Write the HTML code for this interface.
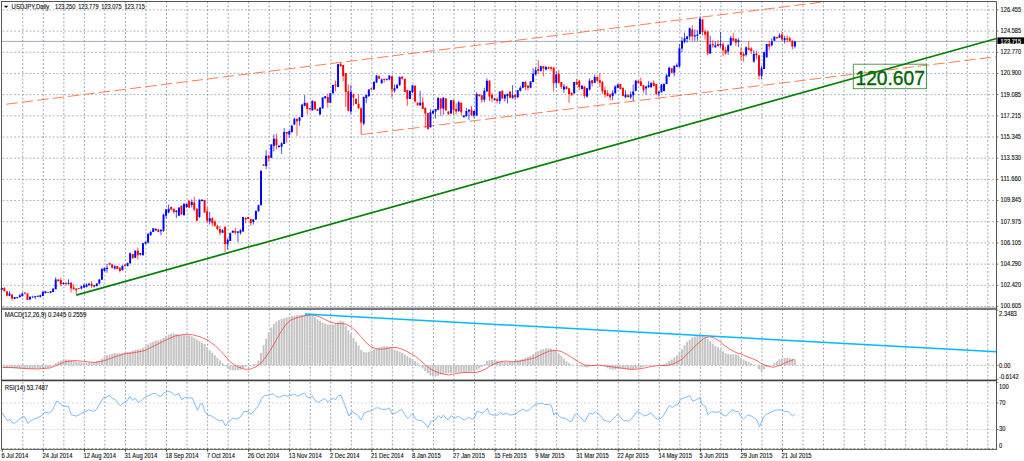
<!DOCTYPE html>
<html><head><meta charset="utf-8"><title>USDJPY Daily</title>
<style>html,body{margin:0;padding:0;background:#fff;overflow:hidden}body{width:1024px;height:461px;font-family:"Liberation Sans",sans-serif}svg text{font-family:"Liberation Sans",sans-serif}</style>
</head><body>
<svg width="1024" height="461" viewBox="0 0 1024 461" style="display:block">
<rect width="1024" height="461" fill="#fff"/>
<path d="M22.78 1.5V307M22.78 309.1V379.7M22.78 382V449.5M43.32 1.5V307M43.32 309.1V379.7M43.32 382V449.5M63.85 1.5V307M63.85 309.1V379.7M63.85 382V449.5M84.38 1.5V307M84.38 309.1V379.7M84.38 382V449.5M104.92 1.5V307M104.92 309.1V379.7M104.92 382V449.5M125.45 1.5V307M125.45 309.1V379.7M125.45 382V449.5M145.98 1.5V307M145.98 309.1V379.7M145.98 382V449.5M166.51 1.5V307M166.51 309.1V379.7M166.51 382V449.5M187.05 1.5V307M187.05 309.1V379.7M187.05 382V449.5M207.58 1.5V307M207.58 309.1V379.7M207.58 382V449.5M228.11 1.5V307M228.11 309.1V379.7M228.11 382V449.5M248.65 1.5V307M248.65 309.1V379.7M248.65 382V449.5M269.18 1.5V307M269.18 309.1V379.7M269.18 382V449.5M289.71 1.5V307M289.71 309.1V379.7M289.71 382V449.5M310.25 1.5V307M310.25 309.1V379.7M310.25 382V449.5M330.78 1.5V307M330.78 309.1V379.7M330.78 382V449.5M351.31 1.5V307M351.31 309.1V379.7M351.31 382V449.5M371.84 1.5V307M371.84 309.1V379.7M371.84 382V449.5M392.38 1.5V307M392.38 309.1V379.7M392.38 382V449.5M412.91 1.5V307M412.91 309.1V379.7M412.91 382V449.5M433.44 1.5V307M433.44 309.1V379.7M433.44 382V449.5M453.98 1.5V307M453.98 309.1V379.7M453.98 382V449.5M474.51 1.5V307M474.51 309.1V379.7M474.51 382V449.5M495.04 1.5V307M495.04 309.1V379.7M495.04 382V449.5M515.58 1.5V307M515.58 309.1V379.7M515.58 382V449.5M536.11 1.5V307M536.11 309.1V379.7M536.11 382V449.5M556.64 1.5V307M556.64 309.1V379.7M556.64 382V449.5M577.17 1.5V307M577.17 309.1V379.7M577.17 382V449.5M597.71 1.5V307M597.71 309.1V379.7M597.71 382V449.5M618.24 1.5V307M618.24 309.1V379.7M618.24 382V449.5M638.77 1.5V307M638.77 309.1V379.7M638.77 382V449.5M659.31 1.5V307M659.31 309.1V379.7M659.31 382V449.5M679.84 1.5V307M679.84 309.1V379.7M679.84 382V449.5M700.37 1.5V307M700.37 309.1V379.7M700.37 382V449.5M720.91 1.5V307M720.91 309.1V379.7M720.91 382V449.5M741.44 1.5V307M741.44 309.1V379.7M741.44 382V449.5M761.97 1.5V307M761.97 309.1V379.7M761.97 382V449.5M782.5 1.5V307M782.5 309.1V379.7M782.5 382V449.5M803.04 1.5V307M803.04 309.1V379.7M803.04 382V449.5M823.57 1.5V307M823.57 309.1V379.7M823.57 382V449.5M844.1 1.5V307M844.1 309.1V379.7M844.1 382V449.5M864.64 1.5V307M864.64 309.1V379.7M864.64 382V449.5M885.17 1.5V307M885.17 309.1V379.7M885.17 382V449.5M905.7 1.5V307M905.7 309.1V379.7M905.7 382V449.5M926.24 1.5V307M926.24 309.1V379.7M926.24 382V449.5M946.77 1.5V307M946.77 309.1V379.7M946.77 382V449.5M967.3 1.5V307M967.3 309.1V379.7M967.3 382V449.5M987.83 1.5V307M987.83 309.1V379.7M987.83 382V449.5" stroke="#67778d" stroke-width="0.66" stroke-dasharray="1.925 1.925" fill="none"/>
<path d="M2.6 9.9H996.5M2.6 31.09H996.5M2.6 52.27H996.5M2.6 73.45H996.5M2.6 94.64H996.5M2.6 115.83H996.5M2.6 137.01H996.5M2.6 158.19H996.5M2.6 179.38H996.5M2.6 200.56H996.5M2.6 221.75H996.5M2.6 242.94H996.5M2.6 264.12H996.5M2.6 285.3H996.5M2.6 306.49H996.5M2.6 365.3H996.5" stroke="#7e8da2" stroke-width="0.66" stroke-dasharray="1.925 1.925" fill="none"/>
<path d="M2.6 403H996.5M2.6 429.5H996.5" stroke="#c6c6c6" stroke-width="0.65" stroke-dasharray="1.925 1.925" fill="none"/>
<path d="M1.5 41.4H996.5" stroke="#8a98ad" stroke-width="0.8" fill="none"/>
<path d="M4.37 365.3V368.06M6.93 365.3V368.15M9.5 365.3V368.23M12.07 365.3V368.32M14.63 365.3V368.4M17.2 365.3V368.49M19.77 365.3V368.58M22.33 365.3V368.66M24.9 365.3V368.75M27.47 365.3V368.75M30.03 365.3V368.75M32.6 365.3V368.75M35.17 365.3V368.75M37.73 365.3V368.73M40.3 365.3V368.47M42.87 365.3V368.21M45.43 365.3V367.96M48 365.3V367.7M50.57 365.3V367.12M55.7 365.3V363.31M58.27 365.3V361.48M60.83 365.3V360.58M63.4 365.3V359.86M65.97 365.3V359.48M68.53 365.3V359.51M71.1 365.3V360.15M73.67 365.3V360.79M76.23 365.3V361.43M78.8 365.3V361.88M81.37 365.3V362.14M83.93 365.3V362.39M86.5 365.3V362.5M89.07 365.3V362.5M91.63 365.3V362.5M94.2 365.3V362.05M96.77 365.3V361.36M99.33 365.3V360.68M101.9 365.3V358.79M104.47 365.3V356.48M107.03 365.3V355.29M109.6 365.3V354.39M112.17 365.3V353.71M114.73 365.3V353.07M117.3 365.3V353.23M119.87 365.3V353.49M122.43 365.3V353.01M125 365.3V352.5M127.57 365.3V352.11M130.14 365.3V351.7M132.7 365.3V350.8M135.27 365.3V349.96M137.84 365.3V349.57M140.4 365.3V349.05M142.97 365.3V347.77M145.54 365.3V346.35M148.1 365.3V344.42M150.67 365.3V342.67M153.24 365.3V341.38M155.8 365.3V340.42M158.37 365.3V340.16M160.94 365.3V339.39M163.5 365.3V337.72M166.07 365.3V336.11M168.64 365.3V334.57M171.2 365.3V333.69M173.77 365.3V333.56M176.34 365.3V333.9M178.9 365.3V334.67M181.47 365.3V335M184.04 365.3V335M186.6 365.3V335.16M189.17 365.3V335.42M191.74 365.3V336.37M194.3 365.3V337.65M196.87 365.3V339.4M199.44 365.3V341.33M202 365.3V342.75M204.57 365.3V344.03M207.14 365.3V346.92M209.7 365.3V350.13M212.27 365.3V352.77M214.84 365.3V355.34M217.4 365.3V357.9M219.97 365.3V360.47M222.54 365.3V363.29M225.1 365.3V366.08M227.67 365.3V368.14M230.24 365.3V370.02M232.8 365.3V370.28M235.37 365.3V370.46M237.94 365.3V370.21M240.5 365.3V369.73M243.07 365.3V368.36M245.64 365.3V366.99M248.2 365.3V365.75M250.77 365.3V364.86M253.34 365.3V364.25M255.9 365.3V364.25M258.47 365.3V360.54M261.04 365.3V352.89M263.6 365.3V345.24M266.17 365.3V338.82M268.74 365.3V332.53M271.3 365.3V327.54M273.87 365.3V323.88M276.44 365.3V321.53M279 365.3V320.25M281.57 365.3V319.05M284.14 365.3V318.15M286.7 365.3V317.32M289.27 365.3V316.68M291.84 365.3V316.12M294.4 365.3V315.74M296.97 365.3V315.35M299.54 365.3V314.97M302.1 365.3V314.64M304.67 365.3V314.38M307.24 365.3V314.37M309.8 365.3V314.63M312.37 365.3V315.64M314.94 365.3V317.31M317.5 365.3V319.13M320.07 365.3V321.05M322.64 365.3V322.57M325.2 365.3V323.85M327.77 365.3V324.52M330.34 365.3V324.9M332.9 365.3V324.43M335.47 365.3V323.66M338.04 365.3V322.28M340.6 365.3V320.74M343.17 365.3V321.59M345.74 365.3V325.67M348.3 365.3V330.16M350.87 365.3V334.06M353.44 365.3V337.91M356 365.3V341.76M358.57 365.3V345.62M361.14 365.3V349.9M363.7 365.3V352.04M366.27 365.3V352.42M368.84 365.3V351.65M371.4 365.3V350.8M373.97 365.3V349.51M376.54 365.3V348.31M379.1 365.3V347.41M381.67 365.3V346.65M384.24 365.3V346.26M386.81 365.3V346.24M389.37 365.3V347.01M391.94 365.3V348.06M394.51 365.3V349.6M397.07 365.3V350.77M399.64 365.3V351.41M402.21 365.3V352.65M404.77 365.3V354.58M407.34 365.3V356.17M409.91 365.3V357.45M412.47 365.3V359.1M415.04 365.3V361.03M417.61 365.3V363.36M420.17 365.3V365.92M422.74 365.3V368.49M425.31 365.3V371.06M427.87 365.3V373.34M430.44 365.3V375.52M433.01 365.3V376.3M435.57 365.3V376.69M438.14 365.3V375.68M440.71 365.3V374.4M443.27 365.3V373.91M445.84 365.3V373.52M448.41 365.3V373.26M450.97 365.3V373M453.54 365.3V372.75M456.11 365.3V372.5M458.67 365.3V372.5M461.24 365.3V372.5M463.81 365.3V372.5M466.37 365.3V372.43M468.94 365.3V371.91M471.51 365.3V371.4M474.07 365.3V370.89M476.64 365.3V370.12M479.21 365.3V368.58M481.77 365.3V366.88M484.34 365.3V363.99M486.91 365.3V360.82M489.47 365.3V360.31M492.04 365.3V360.1M494.61 365.3V360.36M497.17 365.3V360.79M499.74 365.3V361.43M502.31 365.3V361.75M504.87 365.3V361.75M507.44 365.3V361.75M510.01 365.3V361.75M512.57 365.3V361.61M515.14 365.3V360.97M517.71 365.3V360.32M520.27 365.3V359.68M522.84 365.3V358.96M525.41 365.3V358.06M527.97 365.3V357.01M530.54 365.3V355.73M533.11 365.3V354.28M535.67 365.3V352.61M538.24 365.3V351.13M540.81 365.3V349.85M543.37 365.3V348.91M545.94 365.3V348.26M548.51 365.3V348.15M551.07 365.3V348.41M553.64 365.3V349.57M556.21 365.3V351.23M558.77 365.3V353.52M561.34 365.3V356.09M563.91 365.3V358.66M566.47 365.3V361.22M569.04 365.3V363.08M571.61 365.3V364.74M576.74 365.3V365.95M579.31 365.3V366.35M581.87 365.3V366.73M584.44 365.3V367.12M587.01 365.3V367.5M589.57 365.3V366.73M592.14 365.3V365.95M597.27 365.3V364.29M599.84 365.3V364.68M604.97 365.3V366.78M607.54 365.3V368.19M610.11 365.3V369.09M612.67 365.3V369.68M615.24 365.3V369.43M617.81 365.3V369.05M620.37 365.3V368.41M622.94 365.3V368.24M625.51 365.3V368.88M628.07 365.3V369.41M630.64 365.3V369.8M633.21 365.3V369.64M635.77 365.3V368.87M638.34 365.3V368.23M640.91 365.3V367.72M643.47 365.3V367.06M646.04 365.3V366.29M648.61 365.3V365.68M664.01 365.3V364M666.58 365.3V362.71M669.14 365.3V361.11M671.71 365.3V359.44M674.28 365.3V357.54M676.84 365.3V355.62M679.41 365.3V352.49M681.98 365.3V349.28M684.54 365.3V345.44M687.11 365.3V341.66M689.68 365.3V339.48M692.24 365.3V337.4M694.81 365.3V336.38M697.38 365.3V335.32M699.94 365.3V334.13M702.51 365.3V335.16M705.08 365.3V337.18M707.64 365.3V339.11M710.21 365.3V341.21M712.78 365.3V343.78M715.34 365.3V345.92M717.91 365.3V347.2M720.48 365.3V348.98M723.04 365.3V351.54M725.61 365.3V353.28M728.18 365.3V353.92M730.74 365.3V354.25M733.31 365.3V354.25M735.88 365.3V354.59M738.44 365.3V355.24M741.01 365.3V357.96M743.58 365.3V359.52M746.14 365.3V360.81M748.71 365.3V362.09M751.28 365.3V363.37M753.84 365.3V364.66M756.41 365.3V365.62M758.98 365.3V369.17M761.54 365.3V371.45M764.11 365.3V369.48M766.68 365.3V367.04M769.24 365.3V365.8M771.81 365.3V364.8M774.38 365.3V363.09M776.94 365.3V361.16M779.51 365.3V359.36M782.08 365.3V358.28M784.64 365.3V357.93M787.21 365.3V357.8M789.78 365.3V358.2M792.34 365.3V359.01M794.91 365.3V360.03" stroke="#c4c4c4" stroke-width="1.95" fill="none"/>
<path d="M2.5 367.5L12.5 367.5L25 368.5L37.5 369L50 368L57.5 365L65 361.75L75 360.5L85 361.5L95 362.5L105 360.5L115 356.75L125 353.75L135 352.5L145 350.5L155 345.5L165 340.5L175 336L185 334.25L192.5 334.75L200 336.75L207.5 340L215 345.5L222.5 353L230 361.75L237.5 366.75L245 369.25L250 369.25L256 366.75L261 363L266 356.75L271 349.25L276 340.5L281 331.75L286 324.25L291 320L296 318L301 316.75L306 315.5L311 315L316 315.5L321 317.5L326 320L331 322.25L336 323.5L341 323.5L346 324.25L351 326.75L356 331L361 336.75L366 342.5L371 346.75L376 348.75L381 349.25L386 348.75L391 347.5L396 347.5L401 348.75L406 351L411 353.75L416 356.75L421 361L426 365.5L431 369.25L436 371.75L441 373.5L448.5 375L456 373.5L463.5 372.5L471 372.5L476 372.5L481 371L486 368.75L491 365.5L496 363L501 361.5L506 361L512 361.75L519.5 361.25L527 359.75L534.5 358L542 354.25L549.5 351L557 350.5L562 351.75L569.5 356L577 361L584.5 365L592 365.5L599.5 365.25L607 366L614.5 367.25L622 368.25L629.5 369.25L637 369.25L644.5 368L652 366.25L659.5 365.5L667 365.5L674.5 363.5L682 359.25L689.5 351.75L697 344.25L704.5 338L709.5 336.75L714.5 338L719.5 341.25L724.5 345.5L732 350.5L738.25 353.5L740 353.33L745.03 355.85L750.06 357.74L755.09 359.62L760.13 362.77L765.16 365.28L770.19 366.79L773.96 367.17L777.74 365.91L781.51 365.03L785.28 362.77L790.31 360.88L794.72 359.25" stroke="#ff3030" stroke-width="0.72" fill="none" stroke-linejoin="round"/>
<path d="M1.95 412.23L4.88 417.11L7.81 421.02L9.77 419.06L12.7 423.36L15.62 422.58L19.53 419.06L22.46 416.72L25 417.11L27.73 423.36L30.27 421.02L34.18 419.06L38.09 417.5L41.02 416.13L43.95 412.81L45.9 412.23L48.83 413.2L51.76 411.25L53.71 407.34L56.64 401.09L58.59 401.88L61.52 405.39L65.43 406.37L68.36 406.37L71.29 414.77L76.17 416.13L80.08 414.18L83.98 412.23L88.87 409.69L92.77 411.25L95.7 410.27L99.61 404.41L103.52 397.58L106.45 397.19L109.38 395.23L112.3 398.55L115.23 399.53L118.16 403.44L120.12 405.78L124.02 402.46L126.95 401.09L129.88 396.6L132.81 400.51L134.77 397.97L138.28 402.46L141.6 400.51L144.53 397.58L148.44 395.62L152.34 393.67L155.27 393.28L159.18 396.02L161.13 396.02L164.06 392.7L167.97 391.33L170.9 392.11L174.8 395.23L178.71 393.67L181.64 399.53L185.55 397.19L189.45 397.97L192.38 397.97L195.31 405.39L197.66 410.27L200 404.41L202.34 403.44L204.88 411.25L207.42 415.16L210.74 415.55L214.65 418.09L219.53 421.02L222.46 420.04L225.39 425.9L229.3 421.02L233.2 418.09L236.13 419.06L240.04 417.5L243.95 411.64L247.85 411.25L251.17 414.18L254.69 410.27L258.59 405.39L261.52 398.55L264.45 395.62L268.36 395.23L273.24 393.67L276.17 396.6L280.08 397.19L283.98 395.23L287.89 396.21L293.75 394.26L297.66 396.21L301.56 394.26L304.49 393.28L307.42 397.19L310.35 397.58L312.3 396.02L315.23 400.51L318.16 402.46L322.07 400.12L325 398.55L327.93 402.46L330.86 399.53L333.79 398.55L335.74 399.53L338.67 395.23L341.02 395.23L343.55 401.48L346.48 409.3L348.83 416.13L351.95 411.25L355.27 413.59L358.59 416.13L361.13 420.04L364.06 413.2L367.97 411.25L371.88 410.86L375.78 407.93L378.71 407.93L381.64 409.3L386.52 409.3L389.45 407.93L392.38 414.18L396.29 412.81L400 409.69L402.34 410.27L404.88 414.77L407.81 418.67L412.7 413.59L415.62 419.06L418.55 420.62L421.48 420.62L424.41 422.97L427.93 427.46L431.25 421.02L435.16 420.04L438.48 415.55L441.02 418.09L443.36 415.16L447.85 420.04L451.17 415.55L454.69 418.09L458.59 416.13L462.11 419.06L464.45 420.04L468.75 417.11L472.27 419.45L474.22 418.09L477.15 411.25L480.08 412.23L483.01 413.2L487.3 408.32L489.84 414.18L493.75 415.16L497.66 415.16L500.59 412.23L502.54 414.77L506.45 413.2L510.35 415.16L515.23 414.18L519.14 411.25L523.05 408.91L525.98 411.25L528.91 410.27L532.81 406.37L535.74 404.41L541.6 403.05L544.53 404.41L548.44 404.41L551.37 405.39L553.91 415.16L556.25 412.23L559.18 416.13L562.11 418.09L565.04 418.09L569.92 421.41L571.88 421.02L574.8 414.77L576.76 413.79L580.66 417.11L584.57 421.99L589.45 413.2L592.38 414.18L595.31 411.64L600 415.16L603.91 420.04L609.77 421.99L614.65 417.11L617.97 414.18L623.44 420.62L628.32 421.02L632.23 418.09L637.11 411.25L640.04 412.81L643.95 416.13L647.85 414.77L651.17 412.81L654.69 417.11L657.62 419.45L661.52 418.09L665.43 412.23L669.34 405.39L672.27 407.34L675.2 405.39L678.12 404.41L680.47 399.14L685.94 397.19L689.84 395.62L692.77 401.09L696.68 399.53L700 397.58L701.95 404.41L705.47 406.37L707.81 414.77L711.33 411.64L715.23 412.23L720.12 411.64L723.05 415.16L725.98 416.13L728.91 413.2L731.84 409.69L735.74 411.64L738.28 411.25L740.62 416.13L743.55 419.06L747.46 415.16L751.37 416.13L756.25 419.06L759.57 426.88L763.09 418.09L766.02 414.18L768.95 413.2L774.8 410.27L779.69 409.69L784.57 411.25L788.48 411.64L792.38 416.13L794.92 414.18" stroke="#4aa3ff" stroke-width="0.72" fill="none" stroke-linejoin="round"/>
<path d="M6.3 104.2L826.59 1.5" stroke="#ff5c22" stroke-width="0.8" stroke-dasharray="11.4 4.17" fill="none"/>
<path d="M361.5 134.5L996.5 56.65" stroke="#ff5c22" stroke-width="0.8" stroke-dasharray="11.4 4.17" fill="none"/>
<path d="M1.8 287.48V290.01M9.5 291.33V296.27M14.63 297V298.93M17.2 297.08V298.84M19.77 294.13V297.3M22.33 292.42V296.51M30.03 296.46V299.47M32.6 295.76V297.52M35.17 295.91V298.93M37.73 295.67V297.06M40.3 294.53V297.84M42.87 290.88V296.3M45.43 291.33V293.56M50.57 291.03V293.34M53.13 288.62V291.88M55.7 277.23V289.16M63.4 281.98V284.67M68.53 279.4V284.67M81.37 285.85V289.62M83.93 283.74V288.14M86.5 283.5V287.6M89.07 282.66V285.37M94.2 285.37V287.45M96.77 283.12V286.51M99.33 279.1V284.42M101.9 268.03V279.72M104.47 267.77V271.51M107.03 263.99V272.8M114.73 265.25V269.65M122.43 264.88V270.28M127.57 262.36V266.48M130.14 252.3V263.96M135.27 250.19V258M140.4 252.92V255.56M142.97 243.24V255.49M145.54 241.38V244.17M148.1 233.51V243.61M150.67 230.92V236.06M153.24 228.14V232.22M155.8 228.03V231.28M160.94 229.03V235.06M163.5 213.9V231.85M166.07 208.84V218.27M168.64 204.43V213.24M176.34 210.09V218.27M178.9 207.28V215.75M184.04 203.51V215.43M186.6 203.81V207.95M191.74 199.4V207.58M199.44 199.48V218.01M202 199.18V201.64M209.7 211.98V224.56M222.54 229.22V232.74M227.67 238.4V249.72M230.24 232.36V240.91M232.8 230.55V232.74M237.94 231.18V242.17M240.5 229.22V234.62M243.07 216.71V231.48M253.34 219.23V224.56M255.9 210.28V219.73M258.47 204.62V211.81M261.04 170.66V205.45M266.17 150.19V169.06M271.3 144.23V158.34M273.87 134.47V151.45M279 145.19V147.64M281.57 142.27V153.96M284.14 128.18V143.9M289.27 130.32V137.61M291.84 124.66V132.95M294.4 117.74V125M299.54 117.18V125.66M302.1 104.54V117.72M304.67 95.11V106.4M312.37 100.47V110.8M320.07 107.09V115.2M322.64 97.32V108.91M325.2 96.06V98.85M330.34 92.92V102.95M332.9 84.74V94.22M338.04 63.99V87.23M350.87 85.04V113.97M363.7 96.39V125.3M366.27 94.51V103.28M368.84 89.45V96.66M373.97 80.9V89.75M376.54 75.01V82.83M381.67 78.38V83.76M386.81 78.75V80.64M389.37 75.31V80.38M394.51 84.42V92.59M397.07 84.04V88.79M399.64 76.87V86.04M409.91 90.57V99.04M412.47 84.91V93.13M420.17 90.87V105.96M430.44 109.11V127.65M433.01 109.99V113.81M435.57 108.81V118.54M438.14 97.79V110.34M443.27 97.19V114.77M450.97 100V113.51M458.67 101.19V111.99M463.81 115.1V117.28M466.37 107.85V117.03M468.94 109.44V119.8M474.07 110.69V117.91M476.64 92.13V115.7M484.34 87.72V102.19M486.91 78.29V91.5M494.61 97.79V100.3M499.74 91.5V104.08M504.87 94.04V101.56M507.44 93.38V103.45M512.57 85.21V98.79M517.71 90.24V98.16M520.27 85.84V91.47M522.84 81.76V88.32M530.54 81.12V88.3M533.11 68.21V82.34M535.67 66.95V75.5M540.81 66.02V71.72M545.94 65.95V70.47M556.21 71.35V87.7M563.91 83.93V92.74M574.17 81.74V93.96M581.87 85.19V89.59M587.01 88.33V97.51M589.57 78.27V90.59M594.71 74.5V82.97M612.67 90.22V100.28M615.24 85.19V93.66M617.81 83.96V88.3M625.51 90.22V98.14M630.64 91.48V99.03M633.21 84.56V100.91M635.77 79.79V91.45M646.04 86.51V94.69M648.61 80.85V87.77M651.18 82.74V87.74M658.88 91.49V96.57M661.44 84.02V92.47M664.01 82.99V91.51M666.58 74.19V84.29M669.14 66.64V77.05M674.28 65.75V76.45M676.84 63.24V66.94M679.41 43.99V67.38M681.98 37.08V52.17M684.54 32.67V43.36M687.11 35.82V42.74M689.68 27.64V40.22M694.81 29.53V40.85M697.38 30.16V40.85M699.94 16.32V34.56M710.21 35.82V54.06M715.34 41.48V47.77M720.48 32.04V47.77M728.18 43.99V54.69M730.74 35.82V45.88M738.44 38.33V47.14M746.14 46.51V56.57M753.84 50.28V62.86M761.54 65.75V78.96M764.11 51.57V68.9M766.68 43.99V57.8M771.81 38.33V46.51M774.38 36.45V41.15M779.51 33.3V37.7M784.64 35.82V43.36M794.91 40.85V48.4" stroke="#0000ff" stroke-width="0.7" fill="none"/>
<path d="M4.37 287.08V291.33M6.93 291.33V295.67M12.07 294.59V300.55M24.9 292.42V294.5M27.47 293.5V300.01M48 291.9V292.96M58.27 279.1V282.03M60.83 277.78V286.45M65.97 282.2V285.28M71.1 282.06V292.42M73.67 284.28V289.46M76.23 288.32V294.05M78.8 287.78V288.84M91.63 281.03V288.08M109.6 262.76V265.22M112.17 263.62V268.77M117.3 265.88V269.03M119.87 267.17V272.55M125 264.62V266.48M132.7 253.93V258.96M137.84 247.64V259.59M158.37 228.8V232.22M171.2 206.35V210.47M173.77 208.54V213.87M181.47 205.39V214.8M189.17 200.36V208.18M194.3 196.89V211.35M196.87 208.24V220.79M204.57 199.73V212.61M207.14 206.95V223.3M212.27 217.01V226.45M214.84 220.42V226.82M217.4 224.82V229.96M219.97 225.82V235.25M225.1 226.08V252.23M235.37 227.7V234.62M245.64 217.29V223.3M248.2 217.01V218.9M250.77 218.9V225.82M263.6 164.28V165.83M268.74 154.85V161.51M276.44 133.84V149.56M286.7 131.95V142.64M296.97 118.74V135.72M307.24 102.28V114.6M309.8 107.76V109.57M314.94 101.1V109.57M317.5 108.72V110.83M327.77 93.85V107.69M335.47 80.64V91.33M340.6 62.66V66.78M343.17 64.92V81.27M345.74 73.09V107.06M348.3 84.42V111.43M353.44 93.48V105.8M356 98.28V104.21M358.57 94.48V108.91M361.14 107.31V134.48M371.4 88.19V89.75M379.1 75.24V78.75M384.24 78.75V82.53M391.94 75.94V97.62M402.21 75.87V79.75M404.77 78.75V92.26M407.34 89.78V105.8M415.04 85.54V102.56M417.61 102.22V105.63M422.74 97.16V109.41M425.31 107.85V127.97M427.87 112.88V129.23M440.71 98.12V116.03M445.84 98.12V110.96M448.41 111.02V115.14M453.54 99.7V114.77M456.11 103.45V114.77M461.24 102.52V115.4M471.51 105.96V115.4M479.21 94.09V96.9M481.77 95.27V102.82M489.47 80.21V100.93M492.04 92.75V102.19M497.17 97.16V103.45M502.31 90.57V98.72M510.01 91.5V97.79M515.14 94.64V99.67M525.41 81.06V90.24M527.97 84.84V90.24M538.24 60.03V73.87M543.37 66.32V76.38M548.51 66.73V68.84M551.07 66.32V70.72M553.64 67.28V91.48M558.77 70.09V83.67M561.34 82.04V88.96M566.47 86.15V89.56M569.04 88.33V102.8M571.61 92.44V95.85M576.74 78.9V84.86M579.31 79.79V90.22M584.44 86.15V98.4M592.14 79.86V86.45M597.27 76.71V81.79M599.84 73.24V87.08M602.41 81.04V93.99M604.97 86.45V97.77M607.54 90.22V96.48M610.11 93.62V100.28M620.37 83.93V89.56M622.94 87.7V96.48M628.07 94.25V97.14M638.34 80.19V83.3M640.91 77.64V85.82M643.47 84.89V92.74M653.74 80.22V86.48M656.31 83.99V95.31M671.71 68.27V73.27M692.24 25.13V40.85M702.51 18.84V35.19M705.08 29.53V39.59M707.64 30.79V55.31M712.78 40.22V47.77M717.91 40.22V46.51M723.04 42.11V55.94M725.61 47.14V54.69M733.31 33.3V41.48M735.88 38.33V45.88M741.01 47.14V60.35M743.58 52.17V61.6M748.71 41.48V50.28M751.28 47.14V54.06M756.41 50.91V59.09M758.98 55.31V79.59M769.24 40.85V50.28M776.94 37.08V38.93M782.08 32.04V40.85M787.21 35.82V42.11M789.78 36.45V42.11M792.34 40.22V49.65" stroke="#ff0000" stroke-width="0.7" fill="none"/>
<path d="M0.83 288.08h1.95V289.71h-1.95zM8.53 293.5h1.95V295.67h-1.95zM13.66 297.3h1.95V298.93h-1.95zM16.23 297.08h1.95V297.84h-1.95zM18.79 295.13h1.95V297.3h-1.95zM21.36 293.5h1.95V296.21h-1.95zM29.06 296.76h1.95V299.47h-1.95zM31.63 296.76h1.95V297.52h-1.95zM34.19 296.21h1.95V297.3h-1.95zM36.76 295.67h1.95V296.76h-1.95zM39.33 295.13h1.95V296.76h-1.95zM41.89 291.88h1.95V296h-1.95zM44.46 291.33h1.95V292.96h-1.95zM49.59 291.33h1.95V292.74h-1.95zM52.16 288.62h1.95V291.88h-1.95zM54.73 279.4h1.95V289.16h-1.95zM62.43 282.98h1.95V284.07h-1.95zM67.56 282.66h1.95V284.07h-1.95zM80.39 286.45h1.95V288.62h-1.95zM82.96 285.37h1.95V287.54h-1.95zM85.53 284.5h1.95V287h-1.95zM88.09 283.74h1.95V285.37h-1.95zM93.23 285.37h1.95V286.45h-1.95zM95.79 283.42h1.95V285.91h-1.95zM98.36 279.4h1.95V283.42h-1.95zM100.93 269.03h1.95V279.72h-1.95zM103.49 267.77h1.95V270.91h-1.95zM106.06 267.77h1.95V269.03h-1.95zM113.76 266.51h1.95V268.4h-1.95zM121.46 265.88h1.95V270.28h-1.95zM126.59 263.36h1.95V265.88h-1.95zM129.16 253.3h1.95V263.36h-1.95zM134.29 250.79h1.95V257.7h-1.95zM139.43 252.92h1.95V254.56h-1.95zM141.99 243.24h1.95V255.19h-1.95zM144.56 241.98h1.95V243.87h-1.95zM147.13 233.81h1.95V242.61h-1.95zM149.69 231.92h1.95V235.06h-1.95zM152.26 228.14h1.95V231.92h-1.95zM154.83 229.03h1.95V230.28h-1.95zM159.96 230.03h1.95V231.29h-1.95zM162.53 214.5h1.95V230.85h-1.95zM165.09 209.47h1.95V215.75h-1.95zM167.66 208.84h1.95V212.61h-1.95zM175.36 210.72h1.95V211.98h-1.95zM177.93 207.58h1.95V215.75h-1.95zM183.06 203.81h1.95V215.13h-1.95zM185.63 203.81h1.95V206.95h-1.95zM190.76 201.92h1.95V205.06h-1.95zM198.46 199.78h1.95V217.01h-1.95zM201.03 199.78h1.95V201.04h-1.95zM208.73 218.27h1.95V221.42h-1.95zM221.56 230.22h1.95V232.74h-1.95zM226.69 239.65h1.95V244.06h-1.95zM229.26 233.36h1.95V240.91h-1.95zM231.83 230.85h1.95V232.74h-1.95zM236.96 231.48h1.95V232.74h-1.95zM239.53 230.22h1.95V232.74h-1.95zM242.09 217.01h1.95V231.48h-1.95zM252.36 219.53h1.95V222.04h-1.95zM254.93 210.91h1.95V219.53h-1.95zM257.5 205.25h1.95V210.91h-1.95zM260.06 170.66h1.95V205.25h-1.95zM265.2 155.85h1.95V165.91h-1.95zM270.33 144.53h1.95V157.74h-1.95zM272.9 138.87h1.95V145.79h-1.95zM278.03 145.79h1.95V147.04h-1.95zM280.6 143.27h1.95V146.67h-1.95zM283.16 131.95h1.95V143.9h-1.95zM288.3 131.32h1.95V134.47h-1.95zM290.86 125.66h1.95V131.95h-1.95zM293.43 118.74h1.95V124.4h-1.95zM298.56 117.48h1.95V120.63h-1.95zM301.13 104.54h1.95V117.12h-1.95zM303.7 102.65h1.95V105.8h-1.95zM311.4 100.77h1.95V110.2h-1.95zM319.1 107.69h1.95V114.6h-1.95zM321.66 97.62h1.95V108.31h-1.95zM324.23 96.36h1.95V98.25h-1.95zM329.36 93.22h1.95V102.65h-1.95zM331.93 85.04h1.95V93.22h-1.95zM337.06 64.29h1.95V86.93h-1.95zM349.9 91.96h1.95V111.46h-1.95zM362.73 96.99h1.95V123.79h-1.95zM365.3 95.11h1.95V98.25h-1.95zM367.86 89.45h1.95V96.36h-1.95zM373 81.9h1.95V89.45h-1.95zM375.56 75.61h1.95V82.53h-1.95zM380.7 79.38h1.95V83.16h-1.95zM385.83 78.75h1.95V79.64h-1.95zM388.4 75.61h1.95V79.38h-1.95zM393.53 88.19h1.95V90.7h-1.95zM396.1 85.04h1.95V88.19h-1.95zM398.66 76.87h1.95V85.04h-1.95zM408.93 90.87h1.95V99.04h-1.95zM411.5 85.21h1.95V92.13h-1.95zM419.2 102.82h1.95V105.33h-1.95zM429.46 112.25h1.95V127.35h-1.95zM432.03 110.99h1.95V113.51h-1.95zM434.6 109.11h1.95V111.62h-1.95zM437.16 97.79h1.95V109.74h-1.95zM442.3 97.79h1.95V108.48h-1.95zM450 100.3h1.95V113.51h-1.95zM457.7 102.19h1.95V110.99h-1.95zM462.83 115.4h1.95V117.28h-1.95zM465.4 110.99h1.95V116.03h-1.95zM467.96 109.74h1.95V111.62h-1.95zM473.1 110.99h1.95V115.4h-1.95zM475.66 94.01h1.95V115.4h-1.95zM483.36 90.87h1.95V99.67h-1.95zM485.93 80.81h1.95V91.5h-1.95zM493.63 98.79h1.95V100.3h-1.95zM498.76 91.5h1.95V100.93h-1.95zM503.9 94.64h1.95V98.42h-1.95zM506.46 94.01h1.95V95.9h-1.95zM511.6 95.27h1.95V97.79h-1.95zM516.73 90.24h1.95V97.16h-1.95zM519.3 87.72h1.95V90.87h-1.95zM521.87 82.06h1.95V87.72h-1.95zM529.57 81.42h1.95V87.7h-1.95zM532.13 73.87h1.95V82.04h-1.95zM534.7 70.09h1.95V74.5h-1.95zM539.83 66.32h1.95V70.72h-1.95zM544.97 66.95h1.95V69.47h-1.95zM555.23 74.5h1.95V82.67h-1.95zM562.93 86.45h1.95V89.59h-1.95zM573.2 82.04h1.95V93.36h-1.95zM580.9 85.82h1.95V88.96h-1.95zM586.03 88.33h1.95V96.51h-1.95zM588.6 80.79h1.95V89.59h-1.95zM593.73 77.01h1.95V82.67h-1.95zM611.7 92.74h1.95V95.88h-1.95zM614.27 86.45h1.95V93.36h-1.95zM616.83 84.56h1.95V87.7h-1.95zM624.53 94.62h1.95V97.14h-1.95zM629.67 94.62h1.95V97.14h-1.95zM632.23 91.48h1.95V95.25h-1.95zM634.8 80.79h1.95V90.85h-1.95zM645.07 86.51h1.95V88.4h-1.95zM647.63 85.25h1.95V87.14h-1.95zM650.2 82.74h1.95V87.14h-1.95zM657.9 91.79h1.95V93.43h-1.95zM660.47 84.62h1.95V92.17h-1.95zM663.03 83.99h1.95V90.91h-1.95zM665.6 75.19h1.95V83.99h-1.95zM668.17 67.64h1.95V76.45h-1.95zM673.3 65.75h1.95V72.67h-1.95zM675.87 65.13h1.95V66.64h-1.95zM678.43 48.4h1.95V66.38h-1.95zM681 40.85h1.95V48.4h-1.95zM683.57 38.33h1.95V42.11h-1.95zM686.13 36.45h1.95V38.96h-1.95zM688.7 28.27h1.95V36.45h-1.95zM693.83 35.19h1.95V36.45h-1.95zM696.4 34.56h1.95V35.82h-1.95zM698.97 18.84h1.95V33.93h-1.95zM709.23 44.62h1.95V53.43h-1.95zM714.37 45.25h1.95V47.14h-1.95zM719.5 43.99h1.95V45.25h-1.95zM727.2 45.25h1.95V51.54h-1.95zM729.77 37.7h1.95V45.25h-1.95zM737.47 40.22h1.95V42.11h-1.95zM745.17 47.14h1.95V54.69h-1.95zM752.87 54.06h1.95V61.6h-1.95zM760.57 68.27h1.95V75.82h-1.95zM763.13 52.17h1.95V68.9h-1.95zM765.7 43.99h1.95V57.2h-1.95zM770.83 41.48h1.95V45.25h-1.95zM773.4 36.45h1.95V40.85h-1.95zM778.54 35.19h1.95V37.7h-1.95zM783.67 38.33h1.95V40.22h-1.95zM793.94 41.48h1.95V46.51h-1.95z" fill="#0000ff"/>
<path d="M3.39 288.08h1.95V291.33h-1.95zM5.96 291.33h1.95V295.67h-1.95zM11.09 294.59h1.95V298.38h-1.95zM23.93 292.42h1.95V293.5h-1.95zM26.49 293.5h1.95V300.01h-1.95zM47.03 292.2h1.95V292.96h-1.95zM57.29 279.4h1.95V281.03h-1.95zM59.86 279.95h1.95V284.28h-1.95zM64.99 283.2h1.95V284.28h-1.95zM70.13 282.66h1.95V288.62h-1.95zM72.69 287.54h1.95V289.16h-1.95zM75.26 288.62h1.95V290.25h-1.95zM77.83 288.08h1.95V288.84h-1.95zM90.66 283.74h1.95V285.91h-1.95zM108.63 263.36h1.95V264.62h-1.95zM111.19 264.62h1.95V267.77h-1.95zM116.33 265.88h1.95V269.03h-1.95zM118.89 267.77h1.95V270.91h-1.95zM124.03 264.62h1.95V265.88h-1.95zM131.73 253.93h1.95V257.96h-1.95zM136.86 250.79h1.95V255.19h-1.95zM157.39 229.4h1.95V231.92h-1.95zM170.23 206.95h1.95V209.47h-1.95zM172.79 208.84h1.95V211.98h-1.95zM180.49 205.69h1.95V214.5h-1.95zM188.19 200.66h1.95V207.58h-1.95zM193.33 202.55h1.95V209.47h-1.95zM195.89 208.84h1.95V220.79h-1.95zM203.59 200.03h1.95V212.61h-1.95zM206.16 211.35h1.95V220.79h-1.95zM211.29 218.27h1.95V223.3h-1.95zM213.86 221.42h1.95V225.82h-1.95zM216.43 225.82h1.95V228.96h-1.95zM218.99 228.96h1.95V232.74h-1.95zM224.13 227.08h1.95V244.06h-1.95zM234.39 230.85h1.95V232.74h-1.95zM244.66 217.89h1.95V219.53h-1.95zM247.23 217.01h1.95V218.9h-1.95zM249.79 218.9h1.95V223.3h-1.95zM262.63 164.28h1.95V165.53h-1.95zM267.76 155.85h1.95V158.36h-1.95zM275.46 138.87h1.95V145.16h-1.95zM285.73 131.95h1.95V133.84h-1.95zM296 118.74h1.95V121.26h-1.95zM306.26 103.28h1.95V108.94h-1.95zM308.83 108.06h1.95V109.57h-1.95zM313.96 101.4h1.95V109.57h-1.95zM316.53 109.32h1.95V110.83h-1.95zM326.8 96.99h1.95V102.65h-1.95zM334.5 84.42h1.95V85.67h-1.95zM339.63 63.66h1.95V66.18h-1.95zM342.2 64.92h1.95V76.24h-1.95zM344.76 73.09h1.95V91.96h-1.95zM347.33 91.33h1.95V110.83h-1.95zM352.46 94.48h1.95V97.62h-1.95zM355.03 98.88h1.95V103.91h-1.95zM357.6 103.91h1.95V108.31h-1.95zM360.16 108.31h1.95V122.53h-1.95zM370.43 88.19h1.95V89.45h-1.95zM378.13 76.24h1.95V78.75h-1.95zM383.26 78.75h1.95V80.01h-1.95zM390.96 76.24h1.95V89.45h-1.95zM401.23 76.87h1.95V78.75h-1.95zM403.8 78.75h1.95V91.96h-1.95zM406.36 90.08h1.95V98.88h-1.95zM414.06 85.84h1.95V101.56h-1.95zM416.63 102.82h1.95V105.33h-1.95zM421.76 102.19h1.95V109.11h-1.95zM424.33 107.85h1.95V113.51h-1.95zM426.9 112.88h1.95V129.23h-1.95zM439.73 98.42h1.95V108.48h-1.95zM444.86 98.42h1.95V110.36h-1.95zM447.43 111.62h1.95V114.14h-1.95zM452.56 100.3h1.95V109.74h-1.95zM455.13 109.11h1.95V111.62h-1.95zM460.26 102.82h1.95V112.25h-1.95zM470.53 109.74h1.95V115.4h-1.95zM478.23 94.39h1.95V95.9h-1.95zM480.8 95.27h1.95V99.67h-1.95zM488.5 80.81h1.95V96.53h-1.95zM491.06 94.64h1.95V98.42h-1.95zM496.2 99.04h1.95V100.93h-1.95zM501.33 90.87h1.95V98.42h-1.95zM509.03 91.5h1.95V97.79h-1.95zM514.16 94.64h1.95V97.16h-1.95zM524.43 82.06h1.95V87.09h-1.95zM527 85.84h1.95V87.72h-1.95zM537.27 69.09h1.95V70.72h-1.95zM542.4 66.32h1.95V68.84h-1.95zM547.53 67.33h1.95V68.84h-1.95zM550.1 67.33h1.95V68.84h-1.95zM552.67 67.58h1.95V83.3h-1.95zM557.8 73.87h1.95V82.67h-1.95zM560.37 82.04h1.95V87.08h-1.95zM565.5 86.45h1.95V88.96h-1.95zM568.07 88.33h1.95V93.99h-1.95zM570.63 92.74h1.95V95.25h-1.95zM575.77 82.04h1.95V84.56h-1.95zM578.33 80.79h1.95V87.08h-1.95zM583.47 86.45h1.95V95.88h-1.95zM591.17 80.16h1.95V83.3h-1.95zM596.3 77.01h1.95V80.79h-1.95zM598.87 80.16h1.95V82.67h-1.95zM601.43 82.04h1.95V91.48h-1.95zM604 90.22h1.95V94.62h-1.95zM606.57 93.36h1.95V95.88h-1.95zM609.13 94.62h1.95V97.14h-1.95zM619.4 83.93h1.95V88.96h-1.95zM621.97 87.7h1.95V95.88h-1.95zM627.1 95.25h1.95V97.14h-1.95zM637.37 80.79h1.95V83.3h-1.95zM639.93 81.42h1.95V85.82h-1.95zM642.5 85.19h1.95V90.22h-1.95zM652.77 82.74h1.95V85.88h-1.95zM655.33 83.99h1.95V94.06h-1.95zM670.73 68.27h1.95V72.67h-1.95zM691.27 29.53h1.95V36.45h-1.95zM701.53 19.47h1.95V32.04h-1.95zM704.1 31.42h1.95V34.56h-1.95zM706.67 31.42h1.95V53.43h-1.95zM711.8 43.99h1.95V45.25h-1.95zM716.93 43.99h1.95V45.88h-1.95zM722.07 44.62h1.95V50.28h-1.95zM724.63 49.65h1.95V53.43h-1.95zM732.33 38.33h1.95V40.85h-1.95zM734.9 38.96h1.95V42.74h-1.95zM740.03 52.17h1.95V54.69h-1.95zM742.6 54.06h1.95V55.94h-1.95zM747.73 47.77h1.95V49.65h-1.95zM750.3 48.4h1.95V50.91h-1.95zM755.43 53.43h1.95V55.31h-1.95zM758 55.31h1.95V75.82h-1.95zM768.27 43.99h1.95V46.51h-1.95zM775.97 37.08h1.95V38.33h-1.95zM781.1 34.56h1.95V39.59h-1.95zM786.24 38.33h1.95V39.59h-1.95zM788.8 38.33h1.95V40.85h-1.95zM791.37 40.85h1.95V46.51h-1.95z" fill="#ff0000"/>
<path d="M304.9 313.95L996.5 351.8" stroke="#00baff" stroke-width="1.5" fill="none"/>
<rect x="853.3" y="64.2" width="73.3" height="24.5" fill="none" stroke="#3f8f3f" stroke-width="0.9"/>
<text x="855.5" y="84.8" font-family="Liberation Sans, sans-serif" font-size="20.6" fill="#006400" stroke="#006400" stroke-width="0.35" textLength="69.4" lengthAdjust="spacingAndGlyphs">120.607</text>
<path d="M76.2 295.1L996.5 38.5" stroke="#008200" stroke-width="1.7" fill="none"/>
<rect x="996.5" y="0" width="27.5" height="461" fill="#fff"/>
<rect x="0" y="449.5" width="1024" height="11.5" fill="#fff"/>
<rect x="1.5" y="306.9" width="995" height="1.45" fill="#c8c8c8"/>
<rect x="1.5" y="308.35" width="995" height="1.35" fill="#404040"/>
<rect x="1.5" y="379.6" width="995" height="1.6" fill="#404040"/>
<rect x="1.5" y="381.2" width="995" height="0.8" fill="#c8c8c8"/>
<path d="M1.5 449.5V1.5H996.5V449.5" stroke="#383838" stroke-width="0.85" fill="none"/>
<path d="M1.5 449.4H996.9" stroke="#2a2a2a" stroke-width="0.75" fill="none"/>
<path d="M2.6 448.8H996.5" stroke="#3a3a3a" stroke-width="0.6" stroke-dasharray="1.925 1.925" fill="none"/>
<path d="M996.5 9.9h1.9" stroke="#444" stroke-width="0.7"/>
<text x="1000.6" y="11.8" font-family="Liberation Sans, sans-serif" font-size="6.4" fill="#111" textLength="20.5" lengthAdjust="spacingAndGlyphs" stroke="#111" stroke-width="0.12">126.455</text>
<path d="M996.5 31.09h1.9" stroke="#444" stroke-width="0.7"/>
<text x="1000.6" y="32.98" font-family="Liberation Sans, sans-serif" font-size="6.4" fill="#111" textLength="20.5" lengthAdjust="spacingAndGlyphs" stroke="#111" stroke-width="0.12">124.585</text>
<path d="M996.5 52.27h1.9" stroke="#444" stroke-width="0.7"/>
<text x="1000.6" y="54.17" font-family="Liberation Sans, sans-serif" font-size="6.4" fill="#111" textLength="20.5" lengthAdjust="spacingAndGlyphs" stroke="#111" stroke-width="0.12">122.770</text>
<path d="M996.5 73.45h1.9" stroke="#444" stroke-width="0.7"/>
<text x="1000.6" y="75.36" font-family="Liberation Sans, sans-serif" font-size="6.4" fill="#111" textLength="20.5" lengthAdjust="spacingAndGlyphs" stroke="#111" stroke-width="0.12">120.900</text>
<path d="M996.5 94.64h1.9" stroke="#444" stroke-width="0.7"/>
<text x="1000.6" y="96.54" font-family="Liberation Sans, sans-serif" font-size="6.4" fill="#111" textLength="20.5" lengthAdjust="spacingAndGlyphs" stroke="#111" stroke-width="0.12">119.085</text>
<path d="M996.5 115.83h1.9" stroke="#444" stroke-width="0.7"/>
<text x="1000.6" y="117.73" font-family="Liberation Sans, sans-serif" font-size="6.4" fill="#111" textLength="20.5" lengthAdjust="spacingAndGlyphs" stroke="#111" stroke-width="0.12">117.215</text>
<path d="M996.5 137.01h1.9" stroke="#444" stroke-width="0.7"/>
<text x="1000.6" y="138.91" font-family="Liberation Sans, sans-serif" font-size="6.4" fill="#111" textLength="20.5" lengthAdjust="spacingAndGlyphs" stroke="#111" stroke-width="0.12">115.345</text>
<path d="M996.5 158.19h1.9" stroke="#444" stroke-width="0.7"/>
<text x="1000.6" y="160.09" font-family="Liberation Sans, sans-serif" font-size="6.4" fill="#111" textLength="20.5" lengthAdjust="spacingAndGlyphs" stroke="#111" stroke-width="0.12">113.530</text>
<path d="M996.5 179.38h1.9" stroke="#444" stroke-width="0.7"/>
<text x="1000.6" y="181.28" font-family="Liberation Sans, sans-serif" font-size="6.4" fill="#111" textLength="20.5" lengthAdjust="spacingAndGlyphs" stroke="#111" stroke-width="0.12">111.660</text>
<path d="M996.5 200.56h1.9" stroke="#444" stroke-width="0.7"/>
<text x="1000.6" y="202.47" font-family="Liberation Sans, sans-serif" font-size="6.4" fill="#111" textLength="20.5" lengthAdjust="spacingAndGlyphs" stroke="#111" stroke-width="0.12">109.845</text>
<path d="M996.5 221.75h1.9" stroke="#444" stroke-width="0.7"/>
<text x="1000.6" y="223.65" font-family="Liberation Sans, sans-serif" font-size="6.4" fill="#111" textLength="20.5" lengthAdjust="spacingAndGlyphs" stroke="#111" stroke-width="0.12">107.975</text>
<path d="M996.5 242.94h1.9" stroke="#444" stroke-width="0.7"/>
<text x="1000.6" y="244.84" font-family="Liberation Sans, sans-serif" font-size="6.4" fill="#111" textLength="20.5" lengthAdjust="spacingAndGlyphs" stroke="#111" stroke-width="0.12">106.105</text>
<path d="M996.5 264.12h1.9" stroke="#444" stroke-width="0.7"/>
<text x="1000.6" y="266.02" font-family="Liberation Sans, sans-serif" font-size="6.4" fill="#111" textLength="20.5" lengthAdjust="spacingAndGlyphs" stroke="#111" stroke-width="0.12">104.290</text>
<path d="M996.5 285.3h1.9" stroke="#444" stroke-width="0.7"/>
<text x="1000.6" y="287.2" font-family="Liberation Sans, sans-serif" font-size="6.4" fill="#111" textLength="20.5" lengthAdjust="spacingAndGlyphs" stroke="#111" stroke-width="0.12">102.420</text>
<path d="M996.5 306.49h1.9" stroke="#444" stroke-width="0.7"/>
<text x="1000.6" y="308.39" font-family="Liberation Sans, sans-serif" font-size="6.4" fill="#111" textLength="20.5" lengthAdjust="spacingAndGlyphs" stroke="#111" stroke-width="0.12">100.605</text>
<rect x="997.4" y="37.4" width="27" height="6.5" fill="#000"/>
<text x="1000.6" y="43.5" font-family="Liberation Sans, sans-serif" font-size="6.4" fill="#fff" textLength="20.5" lengthAdjust="spacingAndGlyphs" stroke="#fff" stroke-width="0.12">123.715</text>
<path d="M996.5 310.2h1.9M996.5 365.3h1.9M996.5 379.2h1.9M996.5 382.6h1.9M996.5 403h1.9M996.5 429.5h1.9" stroke="#444" stroke-width="0.7"/>
<text x="999.1" y="315.7" font-family="Liberation Sans, sans-serif" font-size="6.4" fill="#111" textLength="17.74" lengthAdjust="spacingAndGlyphs" stroke="#111" stroke-width="0.12">2.3483</text>
<text x="999.1" y="367.8" font-family="Liberation Sans, sans-serif" font-size="6.4" fill="#111" textLength="11.29" lengthAdjust="spacingAndGlyphs" stroke="#111" stroke-width="0.12">0.00</text>
<text x="999.1" y="378.5" font-family="Liberation Sans, sans-serif" font-size="6.4" fill="#111" textLength="19.67" lengthAdjust="spacingAndGlyphs" stroke="#111" stroke-width="0.12">-0.6142</text>
<text x="999.1" y="388.6" font-family="Liberation Sans, sans-serif" font-size="6.4" fill="#111" textLength="9.68" lengthAdjust="spacingAndGlyphs" stroke="#111" stroke-width="0.12">100</text>
<text x="999.1" y="404.9" font-family="Liberation Sans, sans-serif" font-size="6.4" fill="#111" textLength="6.45" lengthAdjust="spacingAndGlyphs" stroke="#111" stroke-width="0.12">70</text>
<text x="999.1" y="431.1" font-family="Liberation Sans, sans-serif" font-size="6.4" fill="#111" textLength="6.45" lengthAdjust="spacingAndGlyphs" stroke="#111" stroke-width="0.12">30</text>
<text x="999.1" y="447.6" font-family="Liberation Sans, sans-serif" font-size="6.4" fill="#111" textLength="3.23" lengthAdjust="spacingAndGlyphs" stroke="#111" stroke-width="0.12">0</text>
<path d="M2.4 449.4v2.3" stroke="#2a2a2a" stroke-width="0.9"/>
<text x="1.5" y="457.9" font-family="Liberation Sans, sans-serif" font-size="6.4" fill="#111" textLength="26.77" lengthAdjust="spacingAndGlyphs" stroke="#111" stroke-width="0.12">6 Jul 2014</text>
<path d="M43.32 449.4v2.3" stroke="#2a2a2a" stroke-width="0.9"/>
<text x="42.42" y="457.9" font-family="Liberation Sans, sans-serif" font-size="6.4" fill="#111" textLength="29.99" lengthAdjust="spacingAndGlyphs" stroke="#111" stroke-width="0.12">24 Jul 2014</text>
<path d="M84.38 449.4v2.3" stroke="#2a2a2a" stroke-width="0.9"/>
<text x="83.48" y="457.9" font-family="Liberation Sans, sans-serif" font-size="6.4" fill="#111" textLength="32.58" lengthAdjust="spacingAndGlyphs" stroke="#111" stroke-width="0.12">12 Aug 2014</text>
<path d="M125.45 449.4v2.3" stroke="#2a2a2a" stroke-width="0.9"/>
<text x="124.55" y="457.9" font-family="Liberation Sans, sans-serif" font-size="6.4" fill="#111" textLength="32.58" lengthAdjust="spacingAndGlyphs" stroke="#111" stroke-width="0.12">31 Aug 2014</text>
<path d="M166.51 449.4v2.3" stroke="#2a2a2a" stroke-width="0.9"/>
<text x="165.61" y="457.9" font-family="Liberation Sans, sans-serif" font-size="6.4" fill="#111" textLength="32.9" lengthAdjust="spacingAndGlyphs" stroke="#111" stroke-width="0.12">18 Sep 2014</text>
<path d="M207.58 449.4v2.3" stroke="#2a2a2a" stroke-width="0.9"/>
<text x="206.68" y="457.9" font-family="Liberation Sans, sans-serif" font-size="6.4" fill="#111" textLength="28.37" lengthAdjust="spacingAndGlyphs" stroke="#111" stroke-width="0.12">7 Oct 2014</text>
<path d="M248.65 449.4v2.3" stroke="#2a2a2a" stroke-width="0.9"/>
<text x="247.75" y="457.9" font-family="Liberation Sans, sans-serif" font-size="6.4" fill="#111" textLength="31.6" lengthAdjust="spacingAndGlyphs" stroke="#111" stroke-width="0.12">26 Oct 2014</text>
<path d="M289.71 449.4v2.3" stroke="#2a2a2a" stroke-width="0.9"/>
<text x="288.81" y="457.9" font-family="Liberation Sans, sans-serif" font-size="6.4" fill="#111" textLength="32.89" lengthAdjust="spacingAndGlyphs" stroke="#111" stroke-width="0.12">13 Nov 2014</text>
<path d="M330.78 449.4v2.3" stroke="#2a2a2a" stroke-width="0.9"/>
<text x="329.88" y="457.9" font-family="Liberation Sans, sans-serif" font-size="6.4" fill="#111" textLength="29.67" lengthAdjust="spacingAndGlyphs" stroke="#111" stroke-width="0.12">2 Dec 2014</text>
<path d="M371.84 449.4v2.3" stroke="#2a2a2a" stroke-width="0.9"/>
<text x="370.94" y="457.9" font-family="Liberation Sans, sans-serif" font-size="6.4" fill="#111" textLength="32.89" lengthAdjust="spacingAndGlyphs" stroke="#111" stroke-width="0.12">21 Dec 2014</text>
<path d="M412.91 449.4v2.3" stroke="#2a2a2a" stroke-width="0.9"/>
<text x="412.01" y="457.9" font-family="Liberation Sans, sans-serif" font-size="6.4" fill="#111" textLength="28.7" lengthAdjust="spacingAndGlyphs" stroke="#111" stroke-width="0.12">8 Jan 2015</text>
<path d="M453.98 449.4v2.3" stroke="#2a2a2a" stroke-width="0.9"/>
<text x="453.08" y="457.9" font-family="Liberation Sans, sans-serif" font-size="6.4" fill="#111" textLength="31.93" lengthAdjust="spacingAndGlyphs" stroke="#111" stroke-width="0.12">27 Jan 2015</text>
<path d="M495.04 449.4v2.3" stroke="#2a2a2a" stroke-width="0.9"/>
<text x="494.14" y="457.9" font-family="Liberation Sans, sans-serif" font-size="6.4" fill="#111" textLength="32.57" lengthAdjust="spacingAndGlyphs" stroke="#111" stroke-width="0.12">15 Feb 2015</text>
<path d="M536.11 449.4v2.3" stroke="#2a2a2a" stroke-width="0.9"/>
<text x="535.21" y="457.9" font-family="Liberation Sans, sans-serif" font-size="6.4" fill="#111" textLength="29.34" lengthAdjust="spacingAndGlyphs" stroke="#111" stroke-width="0.12">9 Mar 2015</text>
<path d="M577.17 449.4v2.3" stroke="#2a2a2a" stroke-width="0.9"/>
<text x="576.27" y="457.9" font-family="Liberation Sans, sans-serif" font-size="6.4" fill="#111" textLength="32.57" lengthAdjust="spacingAndGlyphs" stroke="#111" stroke-width="0.12">31 Mar 2015</text>
<path d="M618.24 449.4v2.3" stroke="#2a2a2a" stroke-width="0.9"/>
<text x="617.34" y="457.9" font-family="Liberation Sans, sans-serif" font-size="6.4" fill="#111" textLength="31.28" lengthAdjust="spacingAndGlyphs" stroke="#111" stroke-width="0.12">22 Apr 2015</text>
<path d="M659.31 449.4v2.3" stroke="#2a2a2a" stroke-width="0.9"/>
<text x="658.41" y="457.9" font-family="Liberation Sans, sans-serif" font-size="6.4" fill="#111" textLength="33.53" lengthAdjust="spacingAndGlyphs" stroke="#111" stroke-width="0.12">14 May 2015</text>
<path d="M700.37 449.4v2.3" stroke="#2a2a2a" stroke-width="0.9"/>
<text x="699.47" y="457.9" font-family="Liberation Sans, sans-serif" font-size="6.4" fill="#111" textLength="28.7" lengthAdjust="spacingAndGlyphs" stroke="#111" stroke-width="0.12">5 Jun 2015</text>
<path d="M741.44 449.4v2.3" stroke="#2a2a2a" stroke-width="0.9"/>
<text x="740.54" y="457.9" font-family="Liberation Sans, sans-serif" font-size="6.4" fill="#111" textLength="31.93" lengthAdjust="spacingAndGlyphs" stroke="#111" stroke-width="0.12">29 Jun 2015</text>
<path d="M782.5 449.4v2.3" stroke="#2a2a2a" stroke-width="0.9"/>
<text x="781.6" y="457.9" font-family="Liberation Sans, sans-serif" font-size="6.4" fill="#111" textLength="29.99" lengthAdjust="spacingAndGlyphs" stroke="#111" stroke-width="0.12">21 Jul 2015</text>
<path d="M3.9 5.7h4.4l-2.2 2.4z" fill="#000"/>
<text x="11.6" y="8.8" font-family="Liberation Sans, sans-serif" font-size="6.4" fill="#111" textLength="37.7" lengthAdjust="spacingAndGlyphs" stroke="#111" stroke-width="0.12">USDJPY,Daily</text>
<text x="55" y="8.8" font-family="Liberation Sans, sans-serif" font-size="6.4" fill="#111" textLength="20.4" lengthAdjust="spacingAndGlyphs" stroke="#111" stroke-width="0.12">123.250</text>
<text x="78.13" y="8.8" font-family="Liberation Sans, sans-serif" font-size="6.4" fill="#111" textLength="20.4" lengthAdjust="spacingAndGlyphs" stroke="#111" stroke-width="0.12">123.779</text>
<text x="101.26" y="8.8" font-family="Liberation Sans, sans-serif" font-size="6.4" fill="#111" textLength="20.4" lengthAdjust="spacingAndGlyphs" stroke="#111" stroke-width="0.12">123.075</text>
<text x="124.39" y="8.8" font-family="Liberation Sans, sans-serif" font-size="6.4" fill="#111" textLength="20.4" lengthAdjust="spacingAndGlyphs" stroke="#111" stroke-width="0.12">123.715</text>
<text x="4.75" y="317.2" font-family="Liberation Sans, sans-serif" font-size="6.4" fill="#111" textLength="81.5" lengthAdjust="spacingAndGlyphs" stroke="#111" stroke-width="0.12">MACD(12,26,9) 0.2445 0.2559</text>
<text x="4.75" y="389.8" font-family="Liberation Sans, sans-serif" font-size="6.4" fill="#111" textLength="43.35" lengthAdjust="spacingAndGlyphs" stroke="#111" stroke-width="0.12">RSI(14) 53.7487</text>
</svg>
</body></html>
